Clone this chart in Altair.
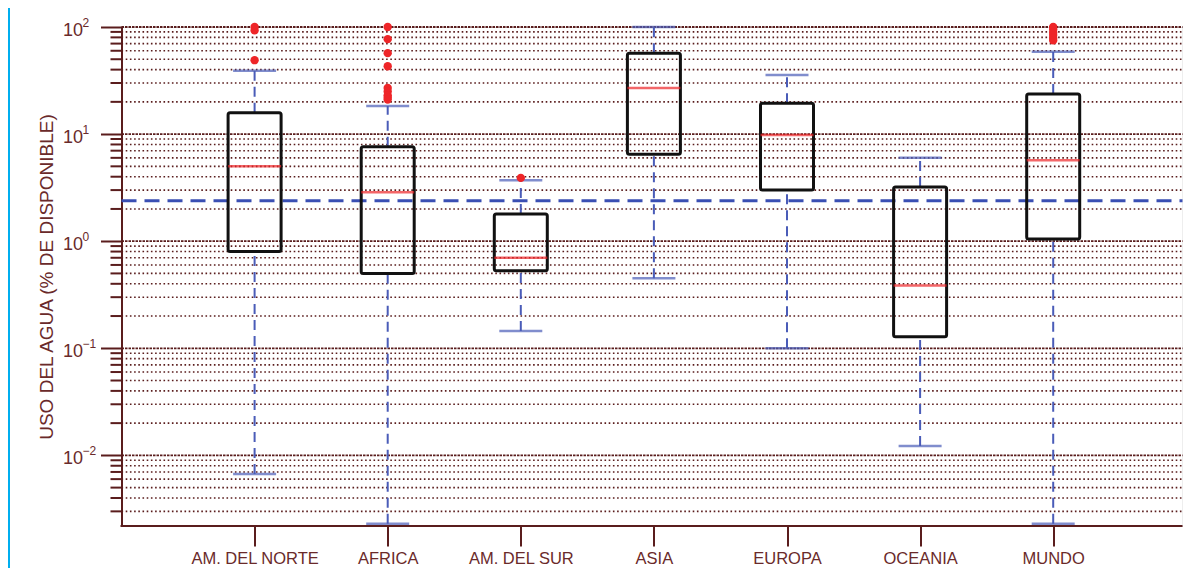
import altair as alt
import pandas as pd

# ---- data ----
categories = ["AM. DEL NORTE", "AFRICA", "AM. DEL SUR", "ASIA", "EUROPA", "OCEANIA", "MUNDO"]
whisker_low = [0.0067, 0.0023, 0.145, 0.45, 0.10, 0.0122, 0.0023]
quartile1 = [0.80, 0.50, 0.53, 6.5, 3.0, 0.128, 1.05]
medians = [5.0, 2.87, 0.70, 27.0, 9.8, 0.385, 5.7]
quartile3 = [15.8, 7.6, 1.79, 56.8, 19.4, 3.2, 23.7]
whisker_high = [39.0, 18.3, 3.7, 100.0, 35.6, 6.0, 58.8]

outlier_cats = (["AM. DEL NORTE"] * 3 + ["AFRICA"] * 9 + ["AM. DEL SUR"] + ["MUNDO"] * 6)
outlier_vals = ([100, 93, 49] +
                [100, 77, 57, 43, 27, 25, 23, 22, 21] +
                [3.9] +
                [100, 95, 89, 84, 79, 75])

reference_value = 2.39

major_ticks = [0.01, 0.1, 1, 10, 100]
major_exponents = ["\u22122", "\u22121", "0", "1", "2"]
minor_ticks = [k * 10.0 ** e for e in range(-3, 2) for k in range(2, 10) if k * 10.0 ** e >= 0.003]

y_domain = [0.00219, 100]
y_title = "USO DEL AGUA (% DE DISPONIBLE)"

# ---- styles / layout ----
MAROON = "#5a1d1d"
TEXT = "#6a2a2a"
BLUE = "#4a5cb8"
RED = "#ee2528"
FONT = "Liberation Sans"
W, H = 1061, 499
PAD_L, PAD_T, PAD_B = 113.5, 19, 42
STEP = 133.1
X_RANGE = [STEP, STEP * 7]

df = pd.DataFrame({"cat": categories, "lo": whisker_low, "q1": quartile1,
                   "med": medians, "q3": quartile3, "hi": whisker_high})
df_out = pd.DataFrame({"cat": outlier_cats, "v": outlier_vals})
df_major = pd.DataFrame({"v": major_ticks, "e": major_exponents})
df_minor = pd.DataFrame({"v": minor_ticks})
df_ref = pd.DataFrame({"v": [reference_value]})

y_scale = alt.Scale(type="log", domain=y_domain, nice=False)
x_scale = alt.Scale(type="point", padding=0, domain=categories, range=X_RANGE)

y_axis = alt.Axis(values=major_ticks, labelExpr="'10'", grid=False,
                  tickSize=21, tickWidth=2, tickColor=MAROON,
                  domainColor=MAROON, domainWidth=2,
                  labelFont=FONT, labelFontSize=18, labelColor=TEXT,
                  labelPadding=18, labelOffset=3,
                  titleFont=FONT, titleFontSize=19, titleColor=TEXT,
                  titleFontWeight="normal", titleX=-69, titleBaseline="alphabetic")
x_axis = alt.Axis(grid=False, domain=False, labelAngle=0, tickSize=20, tickWidth=2,
                  tickColor=MAROON,
                  labelFont=FONT, labelFontSize=16.5, labelColor=TEXT, labelPadding=4)


def Y(field):
    return alt.Y(f"{field}:Q", scale=y_scale, axis=y_axis, title=y_title)


def X():
    return alt.X("cat:N", scale=x_scale, axis=x_axis, title="")


grid_minor = alt.Chart(df_minor).mark_rule(color=MAROON, strokeWidth=1.6, strokeDash=[1.6, 2.6]).encode(
    y=Y("v"), x=alt.value(0), x2=alt.value(W))
grid_major = alt.Chart(df_major).mark_rule(color=MAROON, strokeWidth=1.8, strokeDash=[2.5, 1]).encode(
    y=Y("v"), x=alt.value(0), x2=alt.value(W))
minor_tick_marks = alt.Chart(df_minor).mark_rule(color=MAROON, strokeWidth=2).encode(
    y=Y("v"), x=alt.value(-11), x2=alt.value(0))
exponents = alt.Chart(df_major).mark_text(align="left", baseline="middle", font=FONT,
                                          fontSize=12, color=TEXT, dy=-4).encode(
    y=Y("v"), x=alt.value(-39), text="e:N")
side_bar = alt.Chart(df_ref).mark_rule(color="#00aeef", strokeWidth=4).encode(
    x=alt.value(-PAD_L), y=alt.value(-PAD_T), y2=alt.value(H + PAD_B))
x_domain_line = alt.Chart(df_ref).mark_rule(color=MAROON, strokeWidth=2).encode(
    x=alt.value(-1), x2=alt.value(W), y=alt.value(H))

base = alt.Chart(df)
whisk_low = base.mark_rule(color=BLUE, strokeWidth=2, strokeDash=[10, 6]).encode(
    x=X(), y=Y("lo"), y2="q1:Q")
whisk_high = base.mark_rule(color=BLUE, strokeWidth=2, strokeDash=[10, 6]).encode(
    x=X(), y=Y("q3"), y2="hi:Q")
cap_low = base.mark_tick(color=BLUE, size=43, thickness=2.5, orient="horizontal").encode(
    x=X(), y=Y("lo"))
cap_high = base.mark_tick(color=BLUE, size=43, thickness=2.5, orient="horizontal").encode(
    x=X(), y=Y("hi"))
ref_line = alt.Chart(df_ref).mark_rule(color="#3a4fb3", strokeWidth=3, strokeDash=[15, 8]).encode(
    y=Y("v"), x=alt.value(0), x2=alt.value(W))
boxes = base.mark_bar(size=53, fillOpacity=0, stroke="#111111", strokeWidth=3, cornerRadius=2).encode(
    x=X(), y=Y("q1"), y2="q3:Q")
median_marks = base.mark_tick(color=RED, size=53, thickness=2.5, orient="horizontal").encode(
    x=X(), y=Y("med"))
outliers = alt.Chart(df_out).mark_circle(color=RED, size=70, opacity=1).encode(
    x=X(), y=Y("v"))

chart = alt.layer(
    side_bar, grid_minor, grid_major, minor_tick_marks, exponents,
    whisk_low, whisk_high, cap_low, cap_high, ref_line, x_domain_line,
    boxes, median_marks, outliers
).properties(
    width=W, height=H,
    autosize=alt.AutoSizeParams(type="none"),
    padding={"left": PAD_L, "top": PAD_T, "right": 0, "bottom": PAD_B},
).configure_view(strokeWidth=0).configure(background="white")

chart.save("out.html", embed_options={"renderer": "svg", "actions": False})
